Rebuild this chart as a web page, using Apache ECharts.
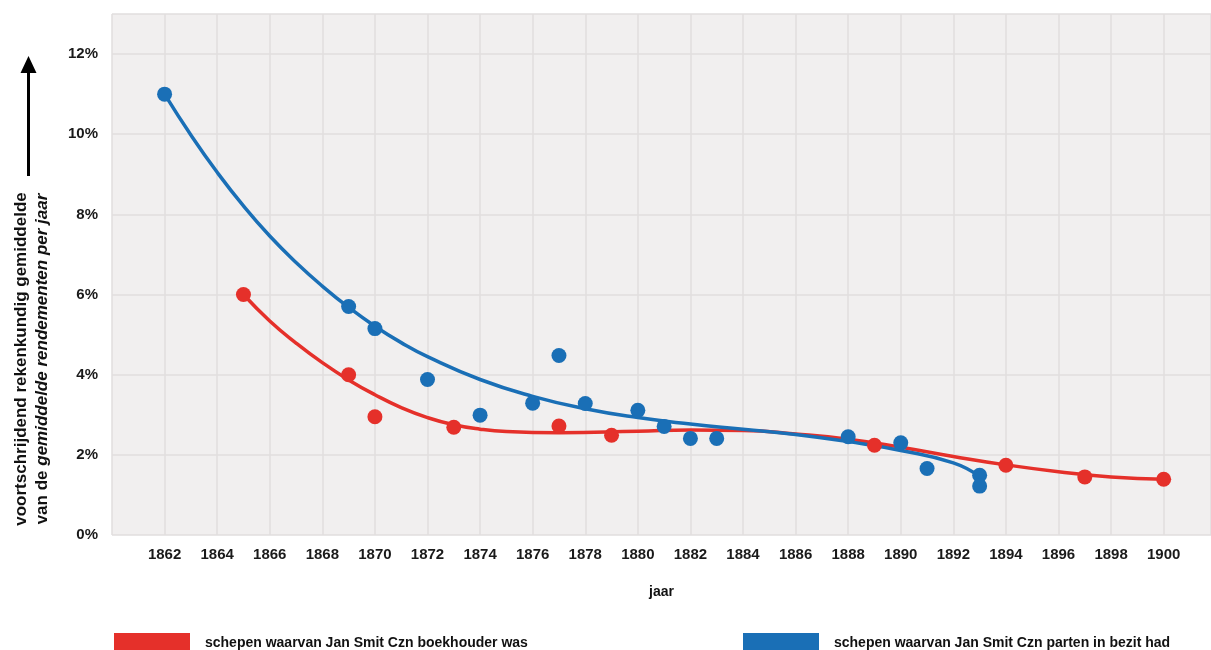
<!DOCTYPE html>
<html><head><meta charset="utf-8">
<script src="https://cdn.jsdelivr.net/npm/echarts@6/dist/echarts.min.js"></script>
<style>html,body{margin:0;padding:0;background:#fff}#c{width:1211px;height:650px}</style>
</head><body><div id="c"></div>
<script>
// Red: schepen waarvan Jan Smit Czn boekhouder was (observed points)
const redYears  = [1865, 1869, 1870, 1873, 1877, 1879, 1889, 1894, 1897, 1900];
const redValues = [6.0, 4.0, 2.95, 2.69, 2.72, 2.49, 2.24, 1.74, 1.45, 1.39];
// Blue: schepen waarvan Jan Smit Czn parten in bezit had (observed points)
const blueYears  = [1862, 1869, 1870, 1872, 1874, 1876, 1877, 1878, 1880, 1881, 1882, 1883, 1888, 1890, 1891, 1893, 1893];
const blueValues = [11.0, 5.7, 5.15, 3.88, 2.99, 3.29, 4.48, 3.28, 3.11, 2.71, 2.41, 2.41, 2.45, 2.30, 1.66, 1.49, 1.22];
// Trend curves
const redCurveYears  = [1865, 1866, 1867, 1868, 1869, 1870, 1871, 1872, 1873, 1874, 1875, 1877, 1880, 1882, 1884, 1886, 1888, 1890, 1892, 1894, 1896, 1898, 1900];
const redCurveValues = [6.0, 5.34, 4.79, 4.30, 3.87, 3.50, 3.18, 2.93, 2.75, 2.64, 2.58, 2.55, 2.59, 2.62, 2.61, 2.52, 2.39, 2.19, 1.96, 1.75, 1.58, 1.45, 1.39];
const blueCurveYears  = [1862, 1863, 1864, 1865, 1866, 1867, 1868, 1869, 1870, 1871, 1872, 1874, 1876, 1878, 1880, 1882, 1884, 1886, 1888, 1890, 1892, 1893];
const blueCurveValues = [11.0, 9.98, 9.05, 8.21, 7.46, 6.80, 6.21, 5.68, 5.21, 4.80, 4.45, 3.88, 3.46, 3.15, 2.93, 2.77, 2.64, 2.51, 2.33, 2.11, 1.80, 1.46];

const redName = 'schepen waarvan Jan Smit Czn boekhouder was';
const blueName = 'schepen waarvan Jan Smit Czn parten in bezit had';
const xName = 'jaar';
const RED = '#e5302a', BLUE = '#1a6fb6';

const zip = (a, b) => a.map((v, i) => [v, b[i]]);
const font = 'Liberation Sans, Arial, sans-serif';

const chart = echarts.init(document.getElementById('c'));
chart.setOption({
  animation: false,
  backgroundColor: '#ffffff',
  grid: { left: 112, top: 14, right: 0, bottom: 115, show: true, backgroundColor: '#f1efef', borderWidth: 0 },
  xAxis: {
    type: 'value', min: 1860, max: 1901.8, interval: 2,
    name: xName, nameLocation: 'middle', nameGap: 50,
    nameTextStyle: { fontFamily: font, fontWeight: 'bold', fontSize: 14, color: '#111' },
    axisLine: { show: false }, axisTick: { show: false },
    axisLabel: { showMinLabel: false, showMaxLabel: false, margin: 12, fontFamily: font, fontWeight: 'bold', fontSize: 15, color: '#1a1a1a', formatter: v => String(v) },
    splitLine: { show: true, lineStyle: { color: '#e0dede', width: 1.5 } }
  },
  yAxis: {
    type: 'value', min: 0, max: 13, interval: 2,
    axisLine: { show: false }, axisTick: { show: false },
    axisLabel: { showMaxLabel: false, margin: 14, fontFamily: font, fontWeight: 'bold', fontSize: 15, color: '#1a1a1a', formatter: v => v + '%' },
    splitLine: { show: true, lineStyle: { color: '#e0dede', width: 1.5 } }
  },
  legend: [
    { left: 114, top: 633, padding: 0, icon: 'rect', itemWidth: 76, itemHeight: 20, itemGap: 0, selectedMode: false,
      data: [redName], textStyle: { fontFamily: font, fontWeight: 'bold', fontSize: 14, color: '#111', padding: [0, 0, 0, 10] } },
    { left: 743, top: 633, padding: 0, icon: 'rect', itemWidth: 76, itemHeight: 20, itemGap: 0, selectedMode: false,
      data: [blueName], textStyle: { fontFamily: font, fontWeight: 'bold', fontSize: 14, color: '#111', padding: [0, 0, 0, 10] } }
  ],
  graphic: [
    { type: 'line', shape: { x1: 28.5, y1: 176, x2: 28.5, y2: 70 }, style: { stroke: '#000', lineWidth: 3 } },
    { type: 'polygon', shape: { points: [[28.5, 56], [20.5, 73], [36.5, 73]] }, style: { fill: '#000' } },
    { type: 'text', x: 32, y: 359, rotation: Math.PI / 2,
      style: {
        text: '{a|voortschrijdend rekenkundig gemiddelde}\n{a|van de }{b|gemiddelde rendementen per jaar}',
        align: 'center', verticalAlign: 'middle',
        rich: {
          a: { fontFamily: font, fontWeight: 'bold', fontSize: 17, lineHeight: 21, fill: '#111' },
          b: { fontFamily: font, fontWeight: 'bold', fontStyle: 'italic', fontSize: 17, lineHeight: 21, fill: '#111' }
        }
      } }
  ],
  series: [
    { name: redName, type: 'line', smooth: 0.5, showSymbol: false, symbol: 'none', data: zip(redCurveYears, redCurveValues), lineStyle: { color: RED, width: 3.5 }, itemStyle: { color: RED }, z: 2 },
    { name: blueName, type: 'line', smooth: 0.5, showSymbol: false, symbol: 'none', data: zip(blueCurveYears, blueCurveValues), lineStyle: { color: BLUE, width: 3.5 }, itemStyle: { color: BLUE }, z: 2 },
    { name: redName, type: 'scatter', symbolSize: 15, data: zip(redYears, redValues), itemStyle: { color: RED, opacity: 1 }, z: 3 },
    { name: blueName, type: 'scatter', symbolSize: 15, data: zip(blueYears, blueValues), itemStyle: { color: BLUE, opacity: 1 }, z: 3 }
  ]
});
</script></body></html>
